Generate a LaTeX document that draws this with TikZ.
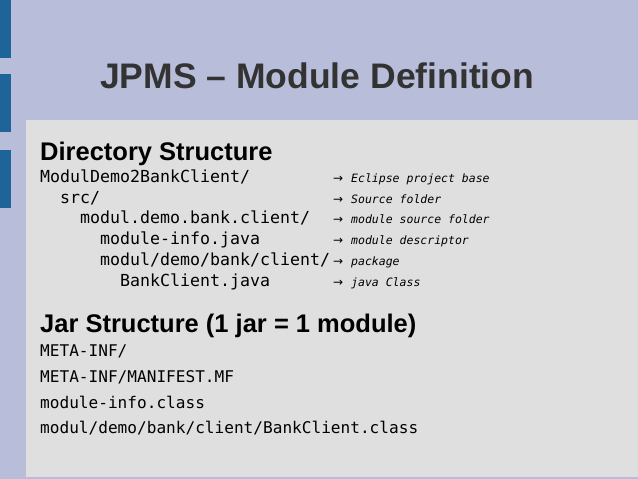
\documentclass[tikz,border=0pt]{standalone}
\usepackage{fontspec}
\setmainfont{Liberation Sans}
\setmonofont{DejaVu Sans Mono}
\newfontfamily\arrfont{DejaVu Sans}
\definecolor{bgc}{HTML}{B8BEDA}
\definecolor{panelc}{HTML}{DFDFDF}
\definecolor{barc}{HTML}{1F6498}
\definecolor{txtc}{HTML}{333333}
\begin{document}
\begin{tikzpicture}[x=1pt,y=-1pt,
  txt/.style={anchor=base west,inner sep=0pt,text=black},
  dir/.style={txt,font=\fontsize{16.6}{16.6}\ttfamily},
  jar/.style={txt,font=\fontsize{16.1}{16.1}\ttfamily},
  cmt/.style={txt,font=\fontsize{11.5}{11.5}\ttfamily\itshape},
  arr/.style={txt,font=\fontsize{12}{12}\arrfont},
  head/.style={txt,font=\fontsize{25.5}{25.5}\selectfont\bfseries}]
\fill[bgc] (0,0) rectangle (638,479);
\useasboundingbox (0,0) rectangle (638,479);
\fill[barc] (0,0) rectangle (11,58);
\fill[barc] (0,74) rectangle (11,132);
\fill[barc] (0,150) rectangle (11,208);
\fill[panelc] (26,120) rectangle (638,477);
\node[txt,text=txtc,font=\fontsize{35.5}{35.5}\selectfont\bfseries] (title) at (100,88) {JPMS – Module Definition};
\node[head] (h1) at (40,160) {Directory Structure};
\node[dir] (d1) at (40,182) {ModulDemo2BankClient/};
\node[dir] (d2) at (40,203) {\ \ src/};
\node[dir] (d3) at (40,223) {\ \ \ \ modul.demo.bank.client/};
\node[dir] (d4) at (40,244) {\ \ \ \ \ \ module-info.java};
\node[dir] (d5) at (40,265) {\ \ \ \ \ \ modul/demo/bank/client/};
\node[dir] (d6) at (40,286) {\ \ \ \ \ \ \ \ BankClient.java};
\foreach \y/\t [count=\i] in {182/Eclipse project base,203/Source folder,223/module source folder,244/module descriptor,265/package,286/java Class}{
  \node[arr] (a\i) at (333,\y) {→};
  \node[cmt] (c\i) at (351,\y) {\t};
}
\node[head] (h2) at (40,332) {Jar Structure (1 jar = 1 module)};
\node[jar] (j1) at (40,356) {META-INF/};
\node[jar] (j2) at (40,382) {META-INF/MANIFEST.MF};
\node[jar] (j3) at (40,408) {module-info.class};
\node[jar] (j4) at (40,433) {modul/demo/bank/client/BankClient.class};
\end{tikzpicture}
\end{document}
